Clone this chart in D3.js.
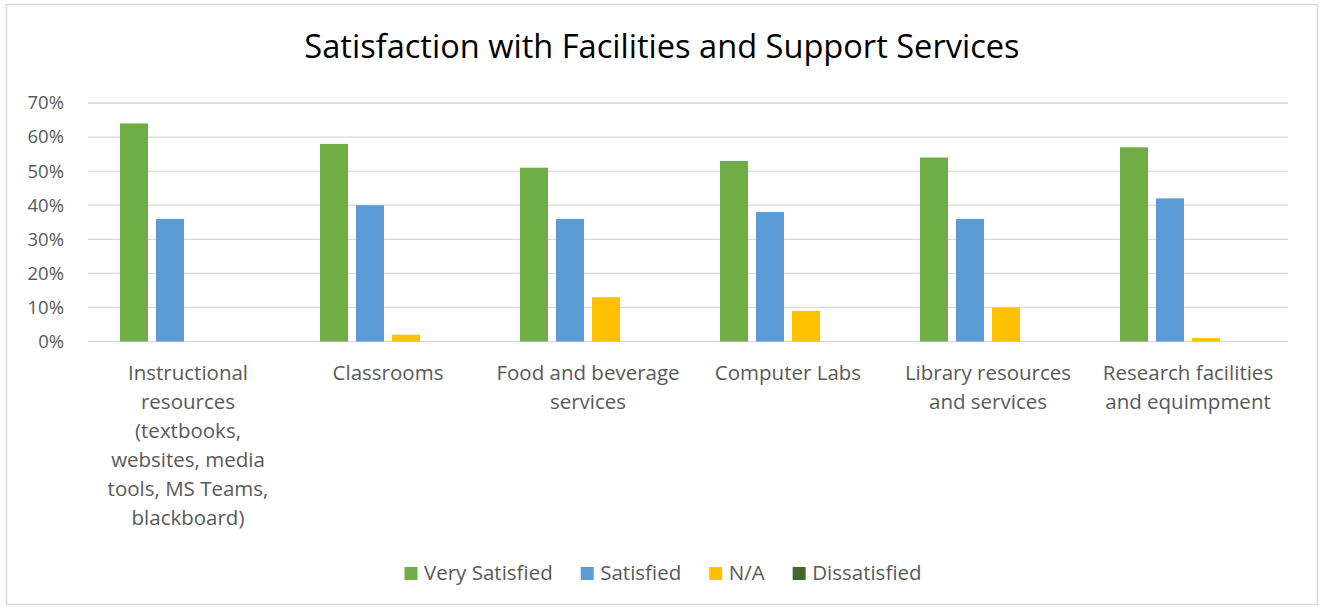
<!DOCTYPE html>
<html>
<head>
<meta charset="utf-8">
<script src="https://cdn.jsdelivr.net/npm/d3@7"></script>
<style>
  html, body { margin: 0; padding: 0; background: #fff; }
  svg { display: block; font-family: "Open Sans", sans-serif; }
</style>
</head>
<body>
<svg id="chart" width="1320" height="607"></svg>
<script>
// data
const categories = ["Instructional", "Classrooms", "Food", "Computer Labs", "Library", "Research"];
const categoryLines = [
  ["Instructional", "resources", "(textbooks,", "websites, media", "tools, MS Teams,", "blackboard)"],
  ["Classrooms"],
  ["Food and beverage", "services"],
  ["Computer Labs"],
  ["Library resources", "and services"],
  ["Research facilities", "and equimpment"]
];
const series = ["Very Satisfied", "Satisfied", "N/A", "Dissatisfied"];
const verySatisfied = [64, 58, 51, 53, 54, 57];
const satisfied     = [36, 40, 36, 38, 36, 42];
const notApplicable = [0, 2, 13, 9, 10, 1];
const dissatisfied  = [0, 0, 0, 0, 0, 0];
const yTicks = [0, 10, 20, 30, 40, 50, 60, 70];

const COLORS = {
  "Very Satisfied": "#70AD47",
  "Satisfied": "#5B9BD5",
  "N/A": "#FFC000",
  "Dissatisfied": "#43682B"
};

const values = [verySatisfied, satisfied, notApplicable, dissatisfied];
const rows = categories.map((c, i) => ({
  cat: c,
  vals: series.map((s, j) => ({ key: s, value: values[j][i] }))
}));

const svg = d3.select("#chart");
const margin = { left: 88, right: 32, top: 103, bottom: 265 };
const W = 1320, H = 607;

// chart frame
svg.append("rect")
  .attr("x", 6.5).attr("y", 4.5)
  .attr("width", 1311).attr("height", 600)
  .attr("fill", "#fff")
  .attr("stroke", "#D9D9D9")
  .attr("stroke-width", 1.5);

svg.append("text")
  .attr("x", 662).attr("y", 58)
  .attr("text-anchor", "middle")
  .attr("font-size", 32.6)
  .attr("fill", "#000")
  .text("Satisfaction with Facilities and Support Services");

const x0 = d3.scaleBand()
  .domain(categories)
  .range([margin.left, W - margin.right]);

const x1 = d3.scaleBand()
  .domain(series)
  .range([32, 168])
  .paddingInner(8 / 36);

const y = d3.scaleLinear()
  .domain([0, 70])
  .range([341.5, margin.top]);

// gridlines
svg.append("g")
  .selectAll("line")
  .data(yTicks)
  .join("line")
  .attr("x1", margin.left).attr("x2", W - margin.right)
  .attr("y1", d => y(d)).attr("y2", d => y(d))
  .attr("stroke", "#D9D9D9")
  .attr("stroke-width", 1.3);

// y axis labels
const yAxis = svg.append("g")
  .attr("transform", `translate(${margin.left - 24},0)`)
  .call(d3.axisLeft(y).tickValues(yTicks).tickFormat(d => d + "%").tickSize(0).tickPadding(0));
yAxis.select(".domain").remove();
yAxis.selectAll("text")
  .attr("font-family", "'Open Sans', sans-serif")
  .attr("font-size", 18.5)
  .attr("fill", "#595959");

// bars
svg.append("g")
  .selectAll("g")
  .data(rows)
  .join("g")
  .attr("transform", d => `translate(${x0(d.cat)},0)`)
  .selectAll("rect")
  .data(d => d.vals.filter(v => v.value > 0))
  .join("rect")
  .attr("x", d => x1(d.key))
  .attr("width", x1.bandwidth())
  .attr("y", d => y(d.value))
  .attr("height", d => y(0) - y(d.value))
  .attr("fill", d => COLORS[d.key]);

// category labels
const lab = svg.append("g")
  .selectAll("text")
  .data(rows)
  .join("text")
  .attr("text-anchor", "middle")
  .attr("font-size", 20.5)
  .attr("fill", "#595959");
lab.selectAll("tspan")
  .data((d, i) => categoryLines[i].map(t => ({ t, c: d.cat })))
  .join("tspan")
  .attr("x", d => x0(d.c) + x0.bandwidth() / 2)
  .attr("y", (d, k) => 380 + k * 29)
  .text(d => d.t);

// legend
const leg = svg.append("g");
const items = leg.selectAll("g")
  .data(series)
  .join("g");
items.append("rect")
  .attr("width", 13).attr("height", 13)
  .attr("y", 567)
  .attr("fill", d => COLORS[d]);
items.append("text")
  .attr("x", 19.5).attr("y", 580)
  .attr("font-size", 20.5)
  .attr("fill", "#595959")
  .text(d => d);

let widths = [];
items.each(function () {
  widths.push(d3.select(this).select("text").node().getComputedTextLength() + 19.5);
});
const gap = 28;
const total = d3.sum(widths) + gap * (widths.length - 1);
let cx = 663 - total / 2;
items.attr("transform", (d, i) => {
  const t = `translate(${cx},0)`;
  cx += widths[i] + gap;
  return t;
});
</script>
</body>
</html>
